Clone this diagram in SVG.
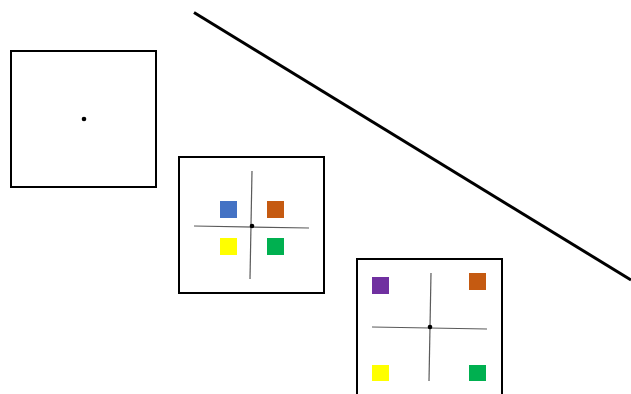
<svg xmlns="http://www.w3.org/2000/svg" width="631" height="394" viewBox="0 0 631 394">
<style>
.frame{fill:#fff;stroke:#000;stroke-width:2}
.axis{stroke:#5a5a5a;stroke-width:1.2;fill:none}
.dot{fill:#000}
.diag{stroke:#000;stroke-width:3;fill:none}
</style>
<rect width="631" height="394" fill="#fff"/>
<g id="box1">
<rect class="frame" x="11" y="51" width="145" height="136"/>
<circle class="dot" cx="84" cy="119" r="2.3"/>
</g>
<g id="box2">
<rect class="frame" x="179" y="157" width="145" height="136"/>
<rect x="220" y="201" width="17" height="17" fill="#4472C4"/>
<rect x="267" y="201" width="17" height="17" fill="#C55A11"/>
<rect x="220" y="238" width="17" height="17" fill="#FFFF00"/>
<rect x="267" y="238" width="17" height="17" fill="#00B050"/>
<line class="axis" x1="252" y1="171" x2="250" y2="279"/>
<line class="axis" x1="194" y1="226" x2="309" y2="228"/>
<circle class="dot" cx="252" cy="226" r="2.3"/>
</g>
<g id="box3">
<rect class="frame" x="357" y="259" width="145" height="137"/>
<rect x="372" y="277" width="17" height="17" fill="#7030A0"/>
<rect x="469" y="273" width="17" height="17" fill="#C55A11"/>
<rect x="372" y="365" width="17" height="16" fill="#FFFF00"/>
<rect x="469" y="365" width="17" height="16" fill="#00B050"/>
<line class="axis" x1="431" y1="273" x2="429" y2="381"/>
<line class="axis" x1="372" y1="327" x2="487" y2="329"/>
<circle class="dot" cx="430" cy="327" r="2.3"/>
</g>
<g id="connectors">
<line class="diag" x1="194" y1="12.5" x2="631" y2="280"/>
</g>
</svg>
